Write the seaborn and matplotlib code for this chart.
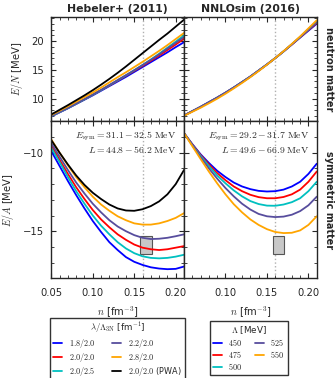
import numpy as np
import pandas as pd
import matplotlib
matplotlib.use("Agg")
import matplotlib.pyplot as plt
from matplotlib.lines import Line2D
from matplotlib.patches import Rectangle
from matplotlib.ticker import MultipleLocator, FormatStrFormatter
import seaborn as sns

# ---------------- data ----------------
n = [0.05, 0.06, 0.07, 0.08, 0.09, 0.10, 0.11, 0.12, 0.13, 0.14,
     0.15, 0.16, 0.17, 0.18, 0.19, 0.20, 0.21]

heb_labels = ["$1.8/2.0$", "$2.0/2.0$", "$2.0/2.5$", "$2.2/2.0$", "$2.8/2.0$", "$2.0/2.0$ (PWA)"]
heb_colors = ["#0000ff", "#ff0000", "#00c0c0", "#574d9d", "#ffa500", "#000000"]

# neutron matter, Hebeler+ (2011)
heb_pnm_18_20 = [6.95, 7.65, 8.35, 9.1, 9.85, 10.6, 11.4, 12.2, 13.0, 13.8, 14.65, 15.5, 16.35, 17.2, 18.05, 18.95, 19.8]
heb_pnm_20_20 = [7.0, 7.7, 8.4, 9.15, 9.9, 10.7, 11.5, 12.3, 13.15, 14.0, 14.85, 15.7, 16.6, 17.5, 18.45, 19.4, 20.4]
heb_pnm_20_25 = [7.0, 7.7, 8.4, 9.15, 9.9, 10.7, 11.5, 12.35, 13.2, 14.05, 14.95, 15.85, 16.8, 17.8, 18.85, 19.9, 21.0]
heb_pnm_22_20 = [7.05, 7.75, 8.45, 9.2, 9.95, 10.75, 11.55, 12.4, 13.25, 14.1, 14.95, 15.85, 16.75, 17.7, 18.7, 19.7, 20.7]
heb_pnm_28_20 = [7.2, 7.95, 8.7, 9.5, 10.3, 11.1, 11.95, 12.85, 13.75, 14.6, 15.5, 16.4, 17.35, 18.3, 19.3, 20.35, 21.4]
heb_pnm_pwa = [7.3, 8.1, 8.9, 9.75, 10.6, 11.5, 12.45, 13.45, 14.5, 15.6, 16.75, 17.9, 19.05, 20.2, 21.3, 22.5, 23.7]

# symmetric matter, Hebeler+ (2011)
heb_snm_18_20 = [-9.9, -10.85, -11.8, -12.7, -13.55, -14.35, -15.05, -15.7, -16.2, -16.65, -16.95, -17.15, -17.3, -17.38, -17.42, -17.4, -17.25]
heb_snm_20_20 = [-9.55, -10.45, -11.35, -12.2, -12.95, -13.65, -14.25, -14.75, -15.2, -15.55, -15.85, -16.05, -16.15, -16.2, -16.15, -16.05, -15.95]
heb_snm_20_25 = [-9.7, -10.6, -11.55, -12.45, -13.25, -14.0, -14.65, -15.2, -15.7, -16.1, -16.4, -16.6, -16.7, -16.73, -16.7, -16.62, -16.5]
heb_snm_22_20 = [-9.4, -10.25, -11.1, -11.9, -12.6, -13.25, -13.8, -14.3, -14.7, -15.0, -15.25, -15.42, -15.5, -15.48, -15.42, -15.32, -15.2]
heb_snm_28_20 = [-9.15, -10.0, -10.8, -11.55, -12.2, -12.8, -13.3, -13.7, -14.05, -14.3, -14.5, -14.58, -14.58, -14.5, -14.35, -14.15, -13.85]
heb_snm_pwa = [-9.2, -10.0, -10.75, -11.45, -12.05, -12.55, -12.95, -13.3, -13.55, -13.68, -13.7, -13.6, -13.4, -13.1, -12.65, -12.0, -11.1]

nnlo_labels = ["$450$", "$475$", "$500$", "$525$", "$550$"]
nnlo_colors = ["#0000ff", "#ff0000", "#00c0c0", "#574d9d", "#ffa500"]

# neutron matter, NNLOsim (2016)
nnlo_pnm_450 = [7.1, 7.85, 8.6, 9.4, 10.2, 11.05, 11.95, 12.9, 13.85, 14.9, 15.95, 17.05, 18.2, 19.4, 20.6, 21.8, 23.0]
nnlo_pnm_475 = [7.1, 7.85, 8.6, 9.4, 10.2, 11.05, 11.95, 12.9, 13.85, 14.9, 15.95, 17.05, 18.2, 19.4, 20.65, 21.9, 23.15]
nnlo_pnm_500 = [7.1, 7.85, 8.6, 9.4, 10.2, 11.05, 11.95, 12.9, 13.85, 14.9, 15.95, 17.05, 18.2, 19.45, 20.7, 22.0, 23.3]
nnlo_pnm_525 = [7.12, 7.88, 8.63, 9.43, 10.23, 11.08, 11.97, 12.9, 13.87, 14.9, 15.95, 17.05, 18.22, 19.45, 20.72, 22.05, 23.4]
nnlo_pnm_550 = [7.05, 7.75, 8.45, 9.22, 10.02, 10.88, 11.8, 12.75, 13.75, 14.8, 15.9, 17.05, 18.25, 19.5, 20.8, 22.2, 23.6]

# symmetric matter, NNLOsim (2016)
nnlo_snm_450 = [-8.75, -9.45, -10.1, -10.65, -11.15, -11.55, -11.9, -12.15, -12.32, -12.43, -12.47, -12.45, -12.35, -12.15, -11.85, -11.35, -10.7]
nnlo_snm_475 = [-8.75, -9.47, -10.15, -10.75, -11.3, -11.75, -12.15, -12.45, -12.68, -12.83, -12.9, -12.9, -12.82, -12.65, -12.35, -11.85, -11.2]
nnlo_snm_500 = [-8.75, -9.5, -10.2, -10.85, -11.45, -11.95, -12.4, -12.78, -13.08, -13.27, -13.37, -13.38, -13.3, -13.15, -12.9, -12.45, -11.85]
nnlo_snm_525 = [-8.75, -9.52, -10.28, -11.0, -11.65, -12.25, -12.78, -13.25, -13.62, -13.9, -14.05, -14.1, -14.07, -13.95, -13.72, -13.35, -12.8]
nnlo_snm_550 = [-8.75, -9.58, -10.4, -11.2, -11.95, -12.65, -13.28, -13.8, -14.25, -14.6, -14.87, -15.05, -15.12, -15.1, -14.95, -14.6, -14.05]

# empirical saturation box and reference density
sat_n0, sat_dn = 0.164, 0.007
sat_E0, sat_dE = -15.86, 0.57
n_ref = 0.16

heb_text = ["$E_{\\rm sym} = 31.1 - 32.5\\ \\mathrm{MeV}$", "$L = 44.8 - 56.2\\ \\mathrm{MeV}$"]
nnlo_text = ["$E_{\\rm sym} = 29.2 - 31.7\\ \\mathrm{MeV}$", "$L = 49.6 - 66.9\\ \\mathrm{MeV}$"]

# ---------------- style ----------------
sns.set_style("ticks")
plt.rcParams["font.family"] = ["DejaVu Sans"]
plt.rcParams["mathtext.fontset"] = "cm"
plt.rcParams["axes.linewidth"] = 1.0
plt.rcParams["xtick.direction"] = "in"
plt.rcParams["ytick.direction"] = "in"

def frame(series, labels):
    rows = []
    for lab, vals in zip(labels, series):
        for x, y in zip(n, vals):
            rows.append({"n": x, "E": y, "model": lab})
    return pd.DataFrame(rows)

df_heb_pnm = frame([heb_pnm_18_20, heb_pnm_20_20, heb_pnm_20_25, heb_pnm_22_20, heb_pnm_28_20, heb_pnm_pwa], heb_labels)
df_heb_snm = frame([heb_snm_18_20, heb_snm_20_20, heb_snm_20_25, heb_snm_22_20, heb_snm_28_20, heb_snm_pwa], heb_labels)
df_nnlo_pnm = frame([nnlo_pnm_450, nnlo_pnm_475, nnlo_pnm_500, nnlo_pnm_525, nnlo_pnm_550], nnlo_labels)
df_nnlo_snm = frame([nnlo_snm_450, nnlo_snm_475, nnlo_snm_500, nnlo_snm_525, nnlo_snm_550], nnlo_labels)

fig, axes = plt.subplots(2, 2, figsize=(3.36, 3.78), dpi=100,
                         gridspec_kw={"height_ratios": [104, 157]})
fig.subplots_adjust(left=0.1527, right=0.9426, top=0.954, bottom=0.2638,
                    hspace=0, wspace=0)

panels = [(axes[0, 0], df_heb_pnm, heb_labels, heb_colors),
          (axes[1, 0], df_heb_snm, heb_labels, heb_colors),
          (axes[0, 1], df_nnlo_pnm, nnlo_labels, nnlo_colors),
          (axes[1, 1], df_nnlo_snm, nnlo_labels, nnlo_colors)]

for ax, df, labs, cols in panels:
    ax.axvline(n_ref, color="#b0b0b0", ls=":", lw=1.0, zorder=0)
    sns.lineplot(data=df, x="n", y="E", hue="model", hue_order=labs,
                 palette=dict(zip(labs, cols)), ax=ax, legend=False,
                 lw=1.3, sort=False)
    ax.set_xlim(0.05, 0.21)
    ax.xaxis.set_major_locator(MultipleLocator(0.05))
    ax.xaxis.set_minor_locator(MultipleLocator(0.01))
    ax.tick_params(which="both", top=True, right=True, labelsize=7.2)
    ax.tick_params(axis="y", which="both", pad=5)
    ax.tick_params(axis="x", which="both", pad=7)
    ax.tick_params(which="major", length=3.5, width=0.8)
    ax.tick_params(which="minor", length=2, width=0.6)
    ax.set_xlabel("")
    ax.set_ylabel("")

for ax in axes[0, :]:
    ax.set_ylim(6.1, 24.1)
    ax.yaxis.set_major_locator(MultipleLocator(5))
    ax.yaxis.set_minor_locator(MultipleLocator(1))
    ax.tick_params(labelbottom=False)
for ax in axes[1, :]:
    ax.set_ylim(-18, -8)
    ax.yaxis.set_major_locator(MultipleLocator(5))
    ax.yaxis.set_minor_locator(MultipleLocator(1))
    ax.add_patch(Rectangle((sat_n0 - sat_dn, sat_E0 - sat_dE), 2 * sat_dn, 2 * sat_dE,
                           facecolor="#c8c8c8", edgecolor="#555555", lw=0.8, zorder=1))
    ax.set_xlabel("$n$ [fm$^{-3}$]", fontsize=7.2, labelpad=5)
    ax.xaxis.set_major_formatter(FormatStrFormatter("%.2f"))
for ax in axes[:, 1]:
    ax.tick_params(labelleft=False)
axes[1, 1].set_xticks([0.10, 0.15, 0.20])
axes[1, 1].set_xlim(0.05, 0.21)

axes[0, 0].set_ylabel("$E/N$ [MeV]", fontsize=7.2, labelpad=5)
axes[1, 0].set_ylabel("$E/A$ [MeV]", fontsize=7.2, labelpad=5)
axes[0, 0].set_title("Hebeler+ (2011)", fontsize=7.8, fontweight="bold", pad=4)
axes[0, 1].set_title("NNLOsim (2016)", fontsize=7.8, fontweight="bold", pad=4)

for ax, txt in [(axes[1, 0], heb_text), (axes[1, 1], nnlo_text)]:
    ax.text(0.945, 0.904, txt[0], transform=ax.transAxes, ha="right", va="center", fontsize=7)
    ax.text(0.945, 0.818, txt[1], transform=ax.transAxes, ha="right", va="center", fontsize=7)

axes[0, 1].text(1.095, 0.5, "neutron matter", transform=axes[0, 1].transAxes,
                rotation=270, ha="center", va="center", fontsize=7, fontweight="bold")
axes[1, 1].text(1.095, 0.5, "symmetric matter", transform=axes[1, 1].transAxes,
                rotation=270, ha="center", va="center", fontsize=7, fontweight="bold")

common = dict(ncol=2, loc="upper center", fontsize=5.9, title_fontsize=6.3,
              frameon=True, fancybox=False, edgecolor="black",
              handlelength=1.1, handletextpad=0.8,
              labelspacing=0.13, borderpad=0.4, borderaxespad=0.0)
h1 = [Line2D([], [], color=c, lw=1.3) for c in heb_colors]
leg1 = fig.legend(h1, heb_labels, bbox_to_anchor=(0.349, 0.1595), columnspacing=2.0,
                  title="$\\lambda/\\Lambda_{\\rm 3N}$ [fm$^{-1}$]", **common)
leg1.get_frame().set_linewidth(1.0)
h2 = [Line2D([], [], color=c, lw=1.3) for c in nnlo_colors]
leg2 = fig.legend(h2, nnlo_labels, bbox_to_anchor=(0.740, 0.151), columnspacing=1.5,
                  title="$\\Lambda$ [MeV]", **common)
leg2.get_frame().set_linewidth(1.0)

fig.savefig("out.png", dpi=100)
